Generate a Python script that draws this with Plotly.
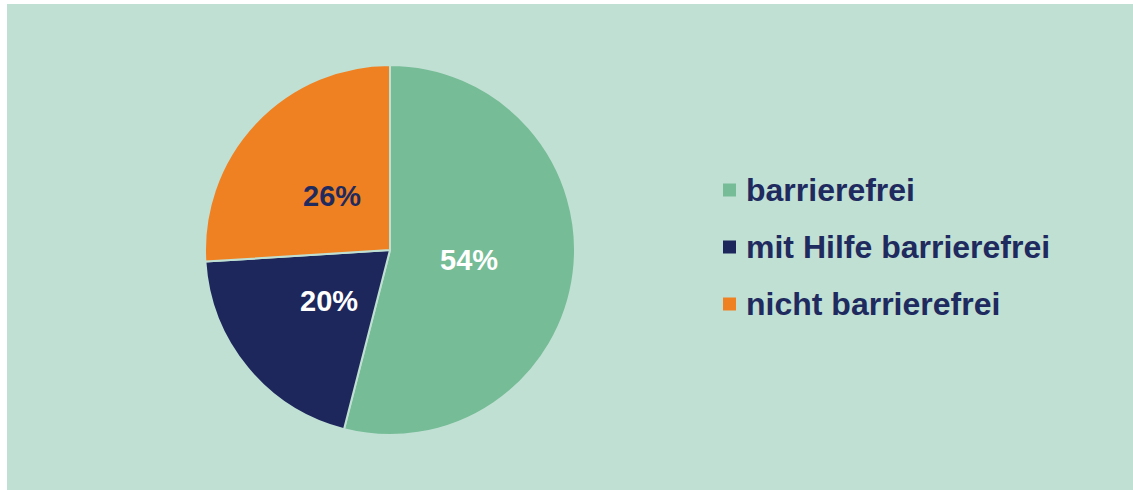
import math
import plotly.graph_objects as go

labels = ["barrierefrei", "mit Hilfe barrierefrei", "nicht barrierefrei"]
values = [54, 20, 26]
slice_colors = ["#76BC96", "#1E275C", "#F08122"]
text_colors = ["#FFFFFF", "#FFFFFF", "#1F2A5E"]

W, H = 1133, 490
BG = "#C0E0D4"
NAVY = "#1F2A5E"
FONT = "Liberation Sans, Arial, sans-serif"

cx, cy, R = 390, 250, 185

fig = go.Figure(go.Pie(
    labels=labels,
    values=values,
    sort=False,
    direction="clockwise",
    rotation=0,
    marker=dict(colors=slice_colors, line=dict(color=BG, width=2)),
    textinfo="none",
    hoverinfo="label+percent",
    showlegend=False,
    domain=dict(x=[(cx - R) / W, (cx + R) / W], y=[(H - cy - R) / H, (H - cy + R) / H]),
))

shapes = [dict(type="rect", xref="paper", yref="paper", x0=7 / W, x1=1, y0=0, y1=(H - 4) / H,
               fillcolor=BG, line=dict(width=0), layer="below")]
annotations = []

# percentage labels placed along each slice's mid-angle
total = sum(values)
start = 0.0
for v, tc in zip(values, text_colors):
    frac = v / total
    mid = (start + frac / 2) * 2 * math.pi
    start += frac
    r = 0.43 * R
    px = cx + r * math.sin(mid)
    py = cy - r * math.cos(mid)
    annotations.append(dict(text=f"<b>{round(frac * 100)}%</b>", xref="paper", yref="paper",
                            x=px / W, y=(H - py) / H, xanchor="center", yanchor="middle",
                            showarrow=False, font=dict(family=FONT, size=29, color=tc)))

leg_x, leg_y0, leg_dy, sq = 723, 190, 57, 13
for i, (lab, col) in enumerate(zip(labels, slice_colors)):
    yc = leg_y0 + i * leg_dy
    shapes.append(dict(type="rect", xref="paper", yref="paper",
                       x0=leg_x / W, x1=(leg_x + sq) / W,
                       y0=(H - yc - sq / 2) / H, y1=(H - yc + sq / 2) / H,
                       fillcolor=col, line=dict(width=0)))
    annotations.append(dict(text=f"<b>{lab}</b>", xref="paper", yref="paper",
                            x=(leg_x + 21) / W, y=(H - yc) / H, xanchor="left", yanchor="middle",
                            showarrow=False, font=dict(family=FONT, size=32, color=NAVY)))

fig.update_layout(
    width=W, height=H, autosize=False,
    margin=dict(l=0, r=0, t=0, b=0),
    paper_bgcolor="#FFFFFF",
    shapes=shapes,
    annotations=annotations,
)

fig.write_html("out.html", config={"displayModeBar": False},
               post_script="document.body.style.margin='0';document.body.style.overflow='hidden';")
